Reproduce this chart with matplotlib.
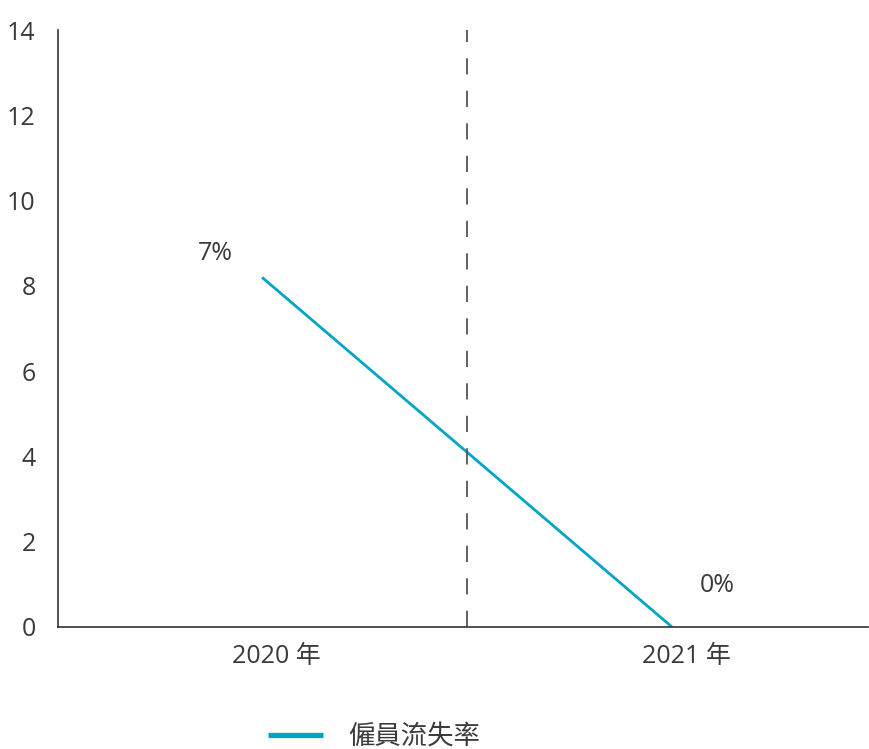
import matplotlib
matplotlib.use("Agg")
import matplotlib.pyplot as plt
import matplotlib.transforms as mtransforms

categories = ["2020 年", "2021 年"]
values = [8.2, 0.0]
value_labels = ["7%", "0%"]
series_name = "僱員流失率"
yticks = [0, 2, 4, 6, 8, 10, 12, 14]

plt.rcParams['font.family'] = ['Open Sans', 'Noto Sans CJK TC', 'DejaVu Sans']
text_color = "#3a3a3a"
line_color = "#00a5c6"

fig = plt.figure(figsize=(8.69, 7.49), dpi=100)
ax = fig.add_axes([58/869, 1-627/749, (868-58)/869, (627-30)/749])

x = list(range(len(categories)))
ax.plot(x, values, color=line_color, lw=2.0, label=series_name, solid_capstyle='butt')
ax.axvline(0.5, color="#555555", lw=1.3, dashes=(9, 9))

ax.set_xlim(-0.4976, 1.478)
ax.set_ylim(0, 14)
ax.set_yticks(yticks)
ax.set_yticklabels([str(t) for t in yticks])
ax.set_xticks(x)
ax.set_xticklabels(categories)
ax.tick_params(axis='both', length=0, labelsize=18, colors=text_color)
ax.tick_params(axis='y', pad=16)
ax.tick_params(axis='x', pad=12)
for lab in ax.get_xticklabels():
    lab.set_transform(lab.get_transform() + mtransforms.ScaledTranslation(14/100, 0, fig.dpi_scale_trans))

for s in ['top', 'right']:
    ax.spines[s].set_visible(False)
for s in ['left', 'bottom']:
    ax.spines[s].set_color("#333333")
    ax.spines[s].set_linewidth(1.2)

offsets = [(-47, 24), (45, 42)]
for xi, v, lab, off in zip(x, values, value_labels, offsets):
    ax.annotate(lab, (xi, v), xytext=off, textcoords='offset pixels',
                ha='center', va='center', fontsize=18, color=text_color)

leg = fig.legend(loc='center left', bbox_to_anchor=(268/869, 1-738/749), frameon=False,
                 fontsize=19, handlelength=2.1, handletextpad=0.95, borderpad=0, borderaxespad=0)
for h in leg.get_lines():
    h.set_linewidth(3.8)
for t in leg.get_texts():
    t.set_color(text_color)

fig.savefig("out.png", dpi=100)
